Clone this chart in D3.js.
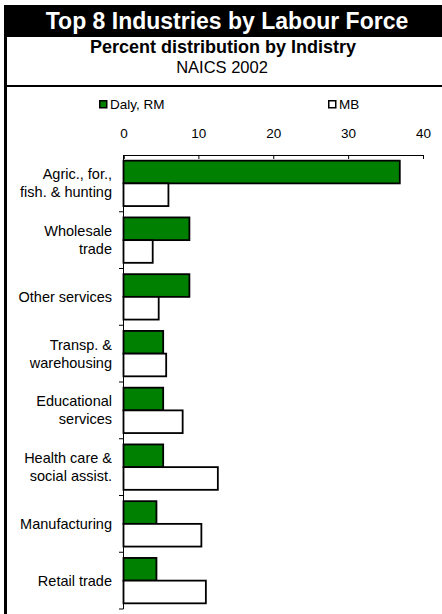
<!DOCTYPE html>
<html><head><meta charset="utf-8">
<script src="https://cdn.jsdelivr.net/npm/d3@7"></script>
<style>
html,body{margin:0;padding:0;background:#fff;}
text{font-family:"Liberation Sans",Arial,sans-serif;}
</style></head>
<body>
<svg id="chart" width="442" height="614"></svg>
<script>
const categories = [
  ["Agric., for.,", "fish. & hunting"],
  ["Wholesale", "trade"],
  ["Other services"],
  ["Transp. &", "warehousing"],
  ["Educational", "services"],
  ["Health care &", "social assist."],
  ["Manufacturing"],
  ["Retail trade"]
];
const seriesNames = ["Daly, RM", "MB"];
const dalyValues = [36.9, 8.8, 8.8, 5.3, 5.3, 5.3, 4.4, 4.4];
const mbValues = [6.0, 3.9, 4.7, 5.7, 7.9, 12.6, 10.4, 11.0];
const tickValues = [0, 10, 20, 30, 40];
const titleText = "Top 8 Industries by Labour Force";
const subtitleText = "Percent distribution by Indistry";
const subtitle2Text = "NAICS 2002";

const svg = d3.select("#chart");
const W = 442, H = 614;
const colors = ["#008000", "#ffffff"];

// frame
svg.append("rect").attr("x", 4).attr("y", 5).attr("width", W - 4).attr("height", 32).attr("fill", "#000");
svg.append("rect").attr("x", 4).attr("y", 5).attr("width", 3).attr("height", H - 5).attr("fill", "#000");
svg.append("rect").attr("x", 4).attr("y", 85).attr("width", W - 4).attr("height", 2).attr("fill", "#000");

svg.append("text").attr("x", 227).attr("y", 29).attr("text-anchor", "middle")
  .attr("fill", "#fff").attr("font-weight", "bold").attr("font-size", 23).text(titleText);
svg.append("text").attr("x", 223).attr("y", 53).attr("text-anchor", "middle")
  .attr("fill", "#000").attr("font-weight", "bold").attr("font-size", 18).text(subtitleText);
svg.append("text").attr("x", 222).attr("y", 73).attr("text-anchor", "middle")
  .attr("fill", "#000").attr("font-size", 16.5).text(subtitle2Text);

// scales
const x = d3.scaleLinear().domain([0, 40]).range([123.5, 423]);
const keys = categories.map(c => c.join(" "));
const y = d3.scaleBand().domain(keys).range([155, 609]).paddingInner(0.2).paddingOuter(0.1);
const ySub = d3.scaleBand().domain(seriesNames).range([0, y.bandwidth()]);

// legend
const legendX = [99, 328];
seriesNames.forEach((s, i) => {
  svg.append("rect").attr("x", legendX[i] + 0.75).attr("y", 100.75).attr("width", 7).attr("height", 7)
    .attr("fill", colors[i]).attr("stroke", "#000").attr("stroke-width", 1.5);
  svg.append("text").attr("x", legendX[i] + 11).attr("y", 109).attr("font-size", 13.5).text(s);
});

// top axis
const axisG = svg.append("g").attr("transform", "translate(0,155)")
  .call(d3.axisTop(x).tickValues(tickValues).tickSize(-4).tickPadding(0).tickFormat(d3.format("d")));
axisG.select(".domain").attr("stroke", "#000").attr("stroke-width", 1);
axisG.selectAll(".tick line").attr("stroke", "#000");
axisG.selectAll(".tick text").attr("y", -17).attr("font-size", 13.5).attr("font-family", "Liberation Sans, Arial, sans-serif").attr("fill", "#000");

// left axis line + category ticks
svg.append("line").attr("x1", 123.5).attr("x2", 123.5).attr("y1", 155).attr("y2", 609).attr("stroke", "#000").attr("stroke-width", 1);
const step = y.step();
keys.forEach(k => {
  const yb = y(k) + y.bandwidth() + step * y.paddingInner() / 2;
  svg.append("line").attr("x1", 119).attr("x2", 123.5).attr("y1", yb).attr("y2", yb).attr("stroke", "#000");
});

// bars
const data = keys.map((k, i) => ({key: k, lines: categories[i], vals: [dalyValues[i], mbValues[i]]}));
const groups = svg.selectAll("g.cat").data(data).join("g").attr("class", "cat")
  .attr("transform", d => `translate(0,${y(d.key)})`);
groups.selectAll("rect").data(d => d.vals.map((v, j) => ({v, s: seriesNames[j], j})))
  .join("rect")
  .attr("x", x(0))
  .attr("y", d => ySub(d.s))
  .attr("width", d => x(d.v) - x(0))
  .attr("height", ySub.bandwidth())
  .attr("fill", d => colors[d.j])
  .attr("stroke", "#000").attr("stroke-width", 1.8);

// category labels
groups.append("text").attr("text-anchor", "end").attr("font-size", 14.5).attr("fill", "#000")
  .each(function(d) {
    const t = d3.select(this);
    const c = y.bandwidth() / 2;
    const n = d.lines.length;
    d.lines.forEach((ln, i) => {
      t.append("tspan").attr("x", 112).attr("y", c + (i - (n - 1) / 2) * 18).attr("dy", "0.35em").text(ln);
    });
  });
</script>
</body></html>
